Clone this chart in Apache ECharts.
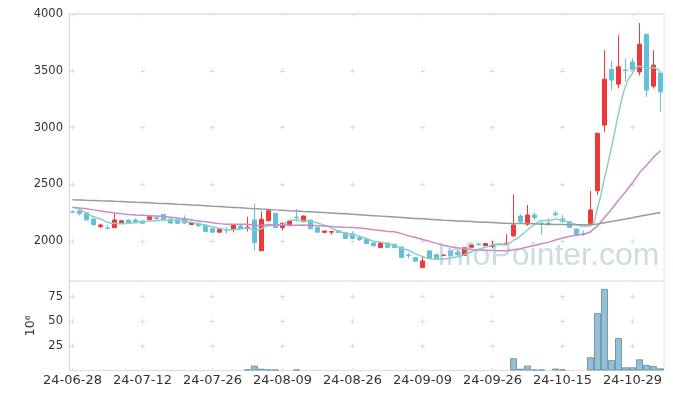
<!DOCTYPE html>
<html>
<head>
<meta charset="utf-8">
<script src="https://cdn.jsdelivr.net/npm/echarts@6/dist/echarts.min.js"></script>
<style>
  html, body { margin: 0; padding: 0; background: #fff; }
  #chart { width: 673px; height: 399px; }
</style>
</head>
<body>
<div id="chart"></div>
<script>
const dates = [
  '24-06-28',
  '24-07-01', '24-07-02', '24-07-03', '24-07-04', '24-07-05', '24-07-08', '24-07-09', '24-07-10', '24-07-11', '24-07-12',
  '24-07-15', '24-07-16', '24-07-17', '24-07-18', '24-07-19', '24-07-22', '24-07-23', '24-07-24', '24-07-25', '24-07-26',
  '24-07-29', '24-07-30', '24-07-31', '24-08-01', '24-08-02', '24-08-05', '24-08-06', '24-08-07', '24-08-08', '24-08-09',
  '24-08-12', '24-08-13', '24-08-14', '24-08-16', '24-08-19', '24-08-20', '24-08-21', '24-08-22', '24-08-23', '24-08-26',
  '24-08-27', '24-08-28', '24-08-29', '24-08-30', '24-09-02', '24-09-03', '24-09-04', '24-09-05', '24-09-06', '24-09-09',
  '24-09-10', '24-09-11', '24-09-12', '24-09-13', '24-09-19', '24-09-20', '24-09-23', '24-09-24', '24-09-25', '24-09-26',
  '24-09-27', '24-09-30', '24-10-02', '24-10-04', '24-10-07', '24-10-08', '24-10-10', '24-10-11', '24-10-14', '24-10-15',
  '24-10-16', '24-10-17', '24-10-18', '24-10-21', '24-10-22', '24-10-23', '24-10-24', '24-10-25', '24-10-28', '24-10-29',
  '24-10-30', '24-10-31', '24-11-01', '24-11-04'
]

const opens = [
  2262, 2266, 2252, 2195, 2127, 2117, 2120, 2165, 2186, 2186,
  2178, 2190, 2206, 2236, 2195, 2190, 2200, 2148, 2157, 2143,
  2110, 2080, 2103, 2108, 2133, 2115, 2187, 1917, 2181, 2246,
  2120, 2138, 2213, 2172, 2186, 2120, 2078, 2080, 2093, 2075,
  2066, 2032, 2022, 1985, 1944, 1985, 1974, 1950, 1879, 1856,
  1768, 1915, 1882, 1874, 1915, 1900, 1875, 1947, 1975, 1961,
  1953, 1975, 1974, 2047, 2222, 2150, 2231, 2160, 2160, 2246,
  2196, 2172, 2108, 2066, 2158, 2445, 3022, 3512, 3383, 3508,
  3578, 3490, 3822, 3365, 3480
]
const closes = [
  2257, 2245, 2188, 2145, 2143, 2113, 2187, 2180, 2165, 2168,
  2158, 2216, 2200, 2188, 2160, 2158, 2160, 2163, 2136, 2085,
  2080, 2104, 2099, 2143, 2112, 2125, 1988, 2193, 2269, 2121,
  2158, 2178, 2209, 2222, 2110, 2080, 2090, 2085, 2077, 2024,
  2024, 2015, 1980, 1960, 1985, 1945, 1945, 1857, 1875, 1825,
  1827, 1848, 1840, 1879, 1872, 1882, 1942, 1967, 1971, 1979,
  1967, 1971, 1982, 2143, 2171, 2231, 2209, 2155, 2144, 2232,
  2176, 2122, 2056, 2062, 2275, 2950, 3426, 3418, 3535, 3502,
  3512, 3734, 3330, 3550, 3314
]
const lows = [
  2245, 2225, 2180, 2138, 2118, 2108, 2118, 2160, 2160, 2162,
  2152, 2186, 2187, 2182, 2152, 2150, 2150, 2144, 2124, 2080,
  2074, 2076, 2070, 2076, 2106, 2085, 1917, 1915, 2175, 2115,
  2095, 2130, 2172, 2168, 2105, 2074, 2075, 2058, 2072, 2020,
  2018, 2002, 1975, 1955, 1940, 1940, 1940, 1850, 1848, 1820,
  1765, 1843, 1835, 1870, 1868, 1865, 1872, 1944, 1960, 1958,
  1938, 1966, 1970, 2040, 2158, 2135, 2185, 2055, 2140, 2216,
  2160, 2118, 2050, 2047, 2150, 2407, 2963, 3330, 3345, 3403,
  3505, 3460, 3270, 3345, 3140
]
const highs = [
  2270, 2282, 2258, 2200, 2155, 2140, 2248, 2190, 2192, 2205,
  2183, 2232, 2232, 2240, 2200, 2198, 2228, 2172, 2162, 2148,
  2114, 2110, 2125, 2148, 2148, 2215, 2328, 2262, 2285, 2250,
  2163, 2182, 2282, 2226, 2190, 2124, 2093, 2090, 2098, 2080,
  2088, 2050, 2028, 1990, 1990, 1990, 1978, 1955, 1900, 1860,
  1862, 1920, 1888, 1884, 1920, 1924, 1946, 1970, 1985, 1982,
  2005, 1979, 2062, 2412, 2238, 2319, 2250, 2172, 2205, 2266,
  2230, 2176, 2112, 2093, 2442, 2955, 3682, 3590, 3812, 3608,
  3610, 3920, 3822, 3682, 3485
]

// volume, millions (0 where no bar is visible)
const volumes = [
  0, 0, 0, 0, 0, 0, 0, 0, 0, 0,
  0, 0, 0, 0, 0, 0, 0, 0, 0, 0,
  0, 0, 0, 0, 0, 1.2, 5.0, 1.8, 1.0, 0.9,
  0, 0, 1.0, 0, 0, 0, 0, 0, 0, 0,
  0, 0, 0, 0, 0, 0, 0, 0, 0, 0,
  0, 0, 0, 0, 0, 0, 0, 0, 0, 0,
  0, 0, 0, 12.5, 1.8, 5.0, 1.0, 1.0, 0, 2.0,
  1.0, 0, 0, 0, 13.5, 58.5, 83.0, 10.7, 33.0, 3.3,
  3.3, 11.4, 5.6, 4.6, 2.2
]

const ma5 = [
  2299, 2280, 2245, 2215, 2196, 2167, 2155, 2154, 2158, 2163,
  2172, 2177, 2181, 2186, 2184, 2184, 2173, 2166, 2155, 2140,
  2125, 2114, 2101, 2102, 2108, 2117, 2095, 2112, 2137, 2139,
  2146, 2184, 2187, 2178, 2175, 2160, 2142, 2117, 2088, 2071,
  2060, 2045, 2024, 2001, 1993, 1977, 1963, 1938, 1921, 1889,
  1866, 1846, 1843, 1844, 1853, 1864, 1883, 1908, 1927, 1948,
  1965, 1971, 1974, 2008, 2047, 2100, 2147, 2182, 2182, 2194,
  2183, 2166, 2146, 2130, 2138, 2293, 2554, 2826, 3121, 3366,
  3479, 3540, 3523, 3526, 3488
]
const ma20 = [
  2298, 2293, 2285, 2276, 2266, 2257, 2248, 2241, 2235, 2231,
  2228, 2225, 2222, 2217, 2211, 2204, 2195, 2187, 2179, 2171,
  2162, 2155, 2150, 2150, 2149, 2149, 2139, 2140, 2145, 2143,
  2143, 2141, 2141, 2143, 2141, 2137, 2133, 2129, 2126, 2123,
  2121, 2116, 2110, 2101, 2095, 2086, 2084, 2067, 2047, 2032,
  2016, 1999, 1981, 1964, 1952, 1942, 1934, 1928, 1923, 1921,
  1918, 1916, 1916, 1925, 1934, 1949, 1962, 1977, 1990, 2011,
  2028, 2042, 2053, 2062, 2082, 2135, 2209, 2282, 2360, 2436,
  2514, 2602, 2669, 2740, 2797
]
const ma120 = [
  2366, 2364, 2361, 2359, 2356, 2354, 2351, 2349, 2346, 2343,
  2341, 2338, 2335, 2333, 2330, 2326, 2323, 2319, 2316, 2312,
  2308, 2305, 2301, 2298, 2294, 2290, 2287, 2283, 2280, 2276,
  2273, 2269, 2266, 2262, 2259, 2256, 2252, 2249, 2245, 2241,
  2237, 2233, 2229, 2225, 2221, 2217, 2213, 2209, 2205, 2201,
  2197, 2193, 2189, 2185, 2182, 2179, 2176, 2173, 2170, 2167,
  2164, 2161, 2158, 2157, 2156, 2155, 2153, 2150, 2149, 2148,
  2147, 2146, 2145, 2144, 2145, 2151, 2162, 2173, 2184, 2195,
  2207, 2220, 2230, 2242, 2252
]

const upColor = '#ec3a3a'
const downColor = '#64c0d9'
const crossColor = '#dcdcdc'
const font = 'DejaVu Sans'

const candles = opens.map((o, i) => [o, closes[i], lows[i], highs[i]])
// zero-volume days get no bar at all
const volumeBars = volumes.map(v => (v > 0 ? v : '-'))

const chart = echarts.init(document.getElementById('chart'))

const crossX = (offset, gap) => ({
  show: true,
  interval: 9,
  alignWithLabel: true,
  lineStyle: { color: crossColor, width: 1, type: [5, gap], dashOffset: offset }
})
const crossY = {
  show: true,
  lineStyle: { color: crossColor, width: 1, type: [5, 65], dashOffset: 69 }
}
const plainNumber = v => String(v)

const option = {
  animation: false,
  textStyle: { fontFamily: font },
  grid: [
    { left: 69, right: 9, top: 14, height: 267, show: true, borderColor: '#e6e6e6', borderWidth: 1 },
    { left: 69, right: 9, top: 281, height: 89.5, show: true, borderColor: '#e6e6e6', borderWidth: 1 }
  ],
  xAxis: [
    {
      type: 'category', gridIndex: 0, data: dates, boundaryGap: true,
      axisLine: { show: false }, axisTick: { show: false }, axisLabel: { show: false },
      splitLine: crossX(2.5, 51.81)
    },
    {
      type: 'category', gridIndex: 1, data: dates, boundaryGap: true,
      axisLine: { show: true, lineStyle: { color: '#dddddd' } },
      axisTick: { show: false },
      axisLabel: { interval: 9, color: '#333', fontSize: 13, margin: 4, fontFamily: font },
      splitLine: crossX(11.35, 19.59)
    },
    {
      type: 'category', gridIndex: 0, data: dates, position: 'top',
      axisLine: { show: true, lineStyle: { color: '#e6e6e6', width: 2 } },
      axisTick: { show: false }, axisLabel: { show: false }, splitLine: { show: false }
    }
  ],
  yAxis: [
    {
      type: 'value', gridIndex: 0, min: 1650, max: 4000, splitNumber: 5,
      axisLine: { show: true, lineStyle: { color: '#dddddd' } },
      axisTick: { show: false },
      axisLabel: { color: '#333', fontSize: 11.5, margin: 6, showMinLabel: false, fontFamily: font, formatter: plainNumber },
      splitLine: crossY
    },
    {
      type: 'value', gridIndex: 1, min: 0, max: 91, interval: 25,
      name: '10\u2076', nameLocation: 'middle', nameRotate: 90, nameGap: 27,
      nameTextStyle: { color: '#333', fontSize: 12.5, fontFamily: font },
      axisLine: { show: true, lineStyle: { color: '#dddddd' } },
      axisTick: { show: false },
      axisLabel: { color: '#333', fontSize: 11.5, margin: 6, showMinLabel: false, showMaxLabel: false, fontFamily: font, formatter: plainNumber },
      splitLine: crossY
    }
  ],
  series: [
    {
      name: 'price', type: 'candlestick', xAxisIndex: 0, yAxisIndex: 0,
      data: candles, barWidth: 5,
      itemStyle: {
        color: upColor, color0: downColor,
        borderColor: upColor, borderColor0: downColor, borderWidth: 1
      }
    },
    {
      name: 'MA5', type: 'line', xAxisIndex: 0, yAxisIndex: 0, data: ma5,
      smooth: true, symbol: 'none', lineStyle: { color: '#8dcfc1', width: 1.5 }
    },
    {
      name: 'MA20', type: 'line', xAxisIndex: 0, yAxisIndex: 0, data: ma20,
      symbol: 'none', lineStyle: { color: '#cc8ac6', width: 1.5 }
    },
    {
      name: 'MA120', type: 'line', xAxisIndex: 0, yAxisIndex: 0, data: ma120,
      symbol: 'none', lineStyle: { color: '#9a9a9a', width: 1.5 }
    },
    {
      name: 'volume', type: 'bar', xAxisIndex: 1, yAxisIndex: 1, data: volumeBars,
      barCategoryGap: '0%',
      itemStyle: { color: '#97bfd1', borderColor: '#6d9db5', borderWidth: 1 }
    }
  ],
  graphic: [
    {
      type: 'text', left: 437, top: 240, z: 100, silent: true,
      style: {
        text: 'InfoPointer.com',
        font: '32px "Liberation Sans"',
        fill: 'rgba(150,185,205,0.5)'
      }
    }
  ]
}

chart.setOption(option)
</script>
</body>
</html>
